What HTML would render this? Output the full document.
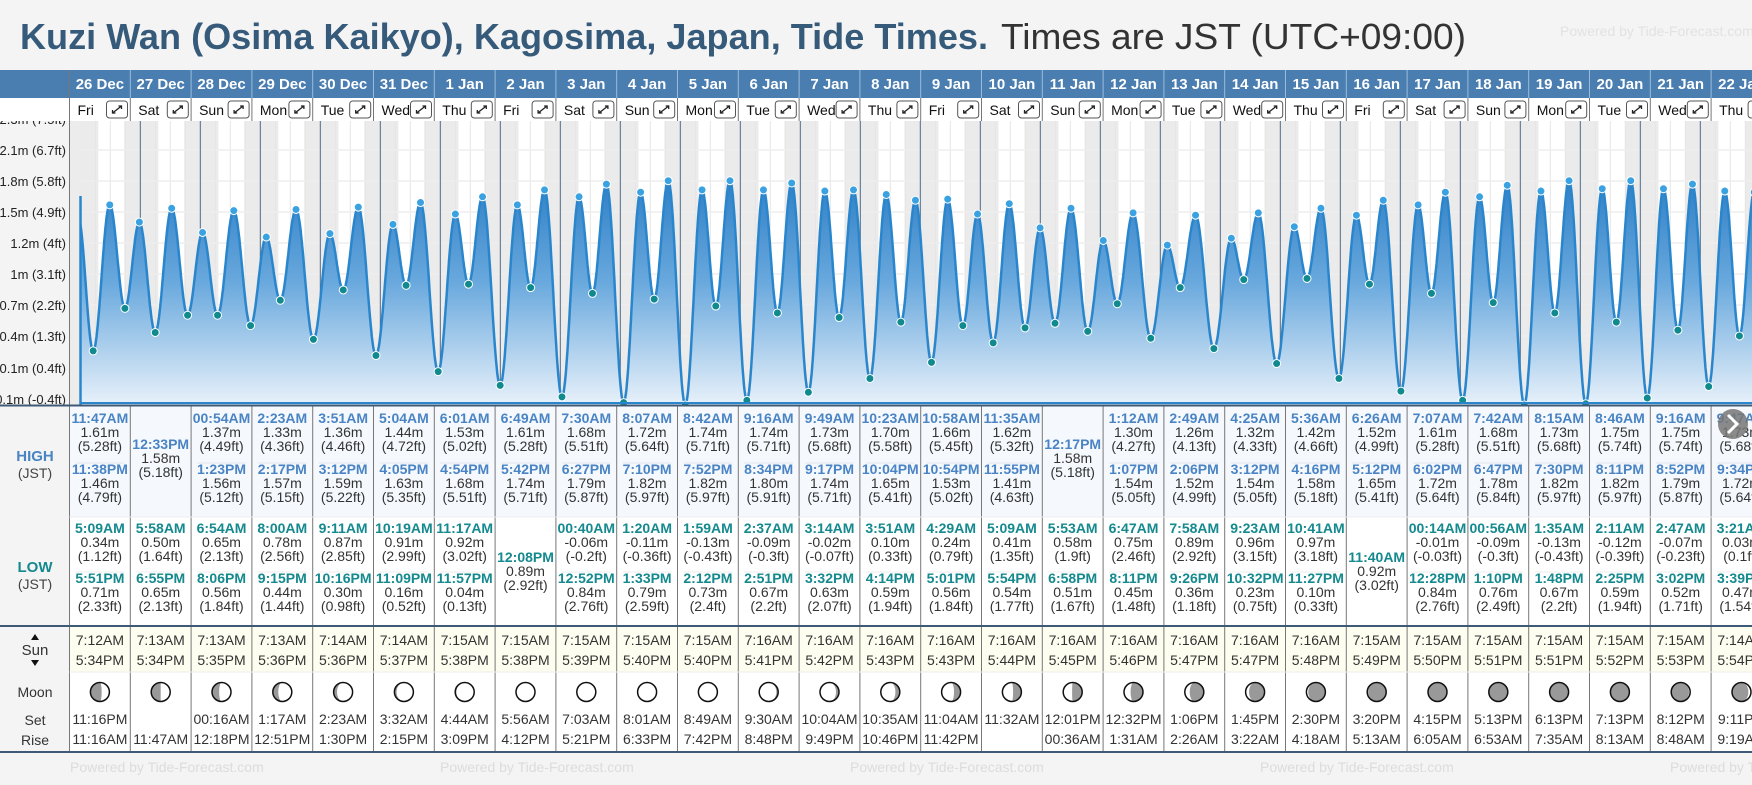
<!DOCTYPE html>
<html><head><meta charset="utf-8">
<style>
body{margin:0;width:1752px;height:780px;overflow:hidden;background:#f4f4f4;font-family:"Liberation Sans",sans-serif}
svg text{font-family:"Liberation Sans",sans-serif}
</style></head>
<body>
<svg id="root" width="1752" height="780" viewBox="0 0 1752 780" xmlns="http://www.w3.org/2000/svg">
<defs>
<linearGradient id="fillg" x1="0" y1="180" x2="0" y2="405" gradientUnits="userSpaceOnUse">
<stop offset="0" stop-color="#2f7fc6"/><stop offset="0.45" stop-color="#68a8dd"/><stop offset="1" stop-color="#e8f1fa"/>
</linearGradient>
<clipPath id="plotclip"><rect x="80" y="121" width="1672" height="284"/></clipPath>
<clipPath id="labelclip"><rect x="0" y="121" width="69" height="290"/></clipPath>
</defs>
<text x="20" y="49" font-size="36" font-weight="bold" fill="#365a7a" textLength="968" lengthAdjust="spacingAndGlyphs">Kuzi Wan (Osima Kaikyo), Kagosima, Japan, Tide Times.</text>
<text x="1001" y="49" font-size="36" fill="#333" textLength="465" lengthAdjust="spacingAndGlyphs">Times are JST (UTC+09:00)</text>
<text x="1560" y="36" font-size="14" fill="#e2e2e2">Powered by Tide-Forecast.com</text>
<g id="g"></g>
</svg>
<script>
const days=['26 Dec','27 Dec','28 Dec','29 Dec','30 Dec','31 Dec','1 Jan','2 Jan','3 Jan','4 Jan','5 Jan','6 Jan','7 Jan','8 Jan','9 Jan','10 Jan','11 Jan','12 Jan','13 Jan','14 Jan','15 Jan','16 Jan','17 Jan','18 Jan','19 Jan','20 Jan','21 Jan','22 Jan'];
const weekdays=['Fri','Sat','Sun','Mon','Tue','Wed','Thu','Fri','Sat','Sun','Mon','Tue','Wed','Thu','Fri','Sat','Sun','Mon','Tue','Wed','Thu','Fri','Sat','Sun','Mon','Tue','Wed','Thu'];
const highT=[['11:47AM','11:38PM'],['12:33PM'],['00:54AM','1:23PM'],['2:23AM','2:17PM'],['3:51AM','3:12PM'],['5:04AM','4:05PM'],['6:01AM','4:54PM'],['6:49AM','5:42PM'],['7:30AM','6:27PM'],['8:07AM','7:10PM'],['8:42AM','7:52PM'],['9:16AM','8:34PM'],['9:49AM','9:17PM'],['10:23AM','10:04PM'],['10:58AM','10:54PM'],['11:35AM','11:55PM'],['12:17PM'],['1:12AM','1:07PM'],['2:49AM','2:06PM'],['4:25AM','3:12PM'],['5:36AM','4:16PM'],['6:26AM','5:12PM'],['7:07AM','6:02PM'],['7:42AM','6:47PM'],['8:15AM','7:30PM'],['8:46AM','8:11PM'],['9:16AM','8:52PM'],['9:47AM','9:34PM']];
const highM=[[1.61,1.46],[1.58],[1.37,1.56],[1.33,1.57],[1.36,1.59],[1.44,1.63],[1.53,1.68],[1.61,1.74],[1.68,1.79],[1.72,1.82],[1.74,1.82],[1.74,1.80],[1.73,1.74],[1.70,1.65],[1.66,1.53],[1.62,1.41],[1.58],[1.30,1.54],[1.26,1.52],[1.32,1.54],[1.42,1.58],[1.52,1.65],[1.61,1.72],[1.68,1.78],[1.73,1.82],[1.75,1.82],[1.75,1.79],[1.73,1.72]];
const highF=[['5.28','4.79'],['5.18'],['4.49','5.12'],['4.36','5.15'],['4.46','5.22'],['4.72','5.35'],['5.02','5.51'],['5.28','5.71'],['5.51','5.87'],['5.64','5.97'],['5.71','5.97'],['5.71','5.91'],['5.68','5.71'],['5.58','5.41'],['5.45','5.02'],['5.32','4.63'],['5.18'],['4.27','5.05'],['4.13','4.99'],['4.33','5.05'],['4.66','5.18'],['4.99','5.41'],['5.28','5.64'],['5.51','5.84'],['5.68','5.97'],['5.74','5.97'],['5.74','5.87'],['5.68','5.64']];
const lowT=[['5:09AM','5:51PM'],['5:58AM','6:55PM'],['6:54AM','8:06PM'],['8:00AM','9:15PM'],['9:11AM','10:16PM'],['10:19AM','11:09PM'],['11:17AM','11:57PM'],['12:08PM'],['00:40AM','12:52PM'],['1:20AM','1:33PM'],['1:59AM','2:12PM'],['2:37AM','2:51PM'],['3:14AM','3:32PM'],['3:51AM','4:14PM'],['4:29AM','5:01PM'],['5:09AM','5:54PM'],['5:53AM','6:58PM'],['6:47AM','8:11PM'],['7:58AM','9:26PM'],['9:23AM','10:32PM'],['10:41AM','11:27PM'],['11:40AM'],['00:14AM','12:28PM'],['00:56AM','1:10PM'],['1:35AM','1:48PM'],['2:11AM','2:25PM'],['2:47AM','3:02PM'],['3:21AM','3:39PM']];
const lowM=[[0.34,0.71],[0.50,0.65],[0.65,0.56],[0.78,0.44],[0.87,0.30],[0.91,0.16],[0.92,0.04],[0.89],[-0.06,0.84],[-0.11,0.79],[-0.13,0.73],[-0.09,0.67],[-0.02,0.63],[0.10,0.59],[0.24,0.56],[0.41,0.54],[0.58,0.51],[0.75,0.45],[0.89,0.36],[0.96,0.23],[0.97,0.10],[0.92],[-0.01,0.84],[-0.09,0.76],[-0.13,0.67],[-0.12,0.59],[-0.07,0.52],[0.03,0.47]];
const lowF=[['1.12','2.33'],['1.64','2.13'],['2.13','1.84'],['2.56','1.44'],['2.85','0.98'],['2.99','0.52'],['3.02','0.13'],['2.92'],['-0.2','2.76'],['-0.36','2.59'],['-0.43','2.4'],['-0.3','2.2'],['-0.07','2.07'],['0.33','1.94'],['0.79','1.84'],['1.35','1.77'],['1.9','1.67'],['2.46','1.48'],['2.92','1.18'],['3.15','0.75'],['3.18','0.33'],['3.02'],['-0.03','2.76'],['-0.3','2.49'],['-0.43','2.2'],['-0.39','1.94'],['-0.23','1.71'],['0.1','1.54']];
const sunRise=['7:12AM','7:13AM','7:13AM','7:13AM','7:14AM','7:14AM','7:15AM','7:15AM','7:15AM','7:15AM','7:15AM','7:16AM','7:16AM','7:16AM','7:16AM','7:16AM','7:16AM','7:16AM','7:16AM','7:16AM','7:16AM','7:15AM','7:15AM','7:15AM','7:15AM','7:15AM','7:15AM','7:14AM'];
const sunSet=['5:34PM','5:34PM','5:35PM','5:36PM','5:36PM','5:37PM','5:38PM','5:38PM','5:39PM','5:40PM','5:40PM','5:41PM','5:42PM','5:43PM','5:43PM','5:44PM','5:45PM','5:46PM','5:47PM','5:47PM','5:48PM','5:49PM','5:50PM','5:51PM','5:51PM','5:52PM','5:53PM','5:54PM'];
const moonSet=['11:16PM','','00:16AM','1:17AM','2:23AM','3:32AM','4:44AM','5:56AM','7:03AM','8:01AM','8:49AM','9:30AM','10:04AM','10:35AM','11:04AM','11:32AM','12:01PM','12:32PM','1:06PM','1:45PM','2:30PM','3:20PM','4:15PM','5:13PM','6:13PM','7:13PM','8:12PM','9:11PM'];
const moonRise=['11:16AM','11:47AM','12:18PM','12:51PM','1:30PM','2:15PM','3:09PM','4:12PM','5:21PM','6:33PM','7:42PM','8:48PM','9:49PM','10:46PM','11:42PM','','00:36AM','1:31AM','2:26AM','3:22AM','4:18AM','5:13AM','6:05AM','6:53AM','7:35AM','8:13AM','8:48AM','9:19AM'];
const moonPhase=[0.22,0.25,0.29,0.32,0.36,0.39,0.42,0.46,0.5,0.53,0.56,0.6,0.63,0.66,0.7,0.73,0.76,0.8,0.83,0.86,0.9,0.93,0.96,0.99,0.02,0.05,0.08,0.12];
const yTickM=[2.3,2.1,1.8,1.5,1.2,1,0.7,0.4,0.1,-0.1];
const yTickLabels=['2.3m (7.5ft)','2.1m (6.7ft)','1.8m (5.8ft)','1.5m (4.9ft)','1.2m (4ft)','1m (3.1ft)','0.7m (2.2ft)','0.4m (1.3ft)','0.1m (0.4ft)','-0.1m (-0.4ft)'];
const yTickPx=[119,150,181,212,243,274,305,336,368,399];
const startPrev={t:-0.035,m:1.50};

const NS='http://www.w3.org/2000/svg';
const G=document.getElementById('g');
const X0=80.3, DW=60, COL0=69.5, CW=60.8, PLOT_TOP=121, PLOT_BOT=405;
const xOf=t=>X0+DW*t;
const yOf=m=>390-115*m;
const colX=i=>COL0+CW*i;
function parseT(s){const m=s.match(/(\d+):(\d+)(AM|PM)/);let h=+m[1]%12;if(m[3]==='PM')h+=12;return (h+ +m[2]/60)/24;}
function mk(tag,attrs,name,inter,parent){
  const el=document.createElementNS(NS,tag);
  for(const k in attrs)el.setAttribute(k,attrs[k]);
  
  
  (parent||G).appendChild(el);return el;}
function txt(x,y,s,name,o){o=o||{};const el=mk('text',{x:x,y:y,'font-size':o.fs||14,'text-anchor':o.a||'middle',fill:o.c||'#333','font-weight':o.b?'bold':'normal'},name,false,o.p);el.textContent=s;return el;}

mk('rect',{x:0,y:70,width:1752,height:28,fill:'#4a7db0'},'date-header-bar',false);
mk('rect',{x:0,y:98,width:1752,height:23,fill:'#fff'},'weekday-row',false);
mk('rect',{x:0,y:121,width:69.5,height:659,fill:'#f4f4f4'},'label-column',false);
mk('rect',{x:69.5,y:121,width:1683,height:284,fill:'#fff'},'plot-background',false);
mk('rect',{x:69.5,y:121,width:11,height:284,fill:'#ececec'},'plot-pre-area',false);
mk('rect',{x:69.5,y:405,width:1683,height:112,fill:'#f5f9fd'},'high-row-bg',false);
mk('rect',{x:69.5,y:517,width:1683,height:109,fill:'#fff'},'low-row-bg',false);
mk('rect',{x:69.5,y:626,width:1683,height:46,fill:'#fdfdf0'},'sun-row-bg',false);
mk('rect',{x:69.5,y:672,width:1683,height:80,fill:'#fff'},'moon-row-bg',false);
mk('rect',{x:0,y:752,width:1752,height:28,fill:'#f4f4f4'},'footer-bg',false);

const pg=mk('g',{'clip-path':'url(#plotclip)'},'plot-area',false);
days.forEach((dl,i)=>{
  const sr=parseT(sunRise[i]), ss=parseT(sunSet[i]);
  mk('rect',{x:xOf(i),y:PLOT_TOP,width:DW*sr,height:284,fill:'#ebebeb'},'night-before-sunrise',false,pg);
  mk('rect',{x:xOf(i+ss),y:PLOT_TOP,width:DW*(1-ss),height:284,fill:'#ebebeb'},'night-after-sunset',false,pg);
  [0.25,0.5,0.75].forEach(f=>mk('line',{x1:xOf(i+f),x2:xOf(i+f),y1:PLOT_TOP,y2:PLOT_BOT,stroke:'#e4e4e4','stroke-width':1},'hour-grid-line',false,pg));
});
yTickPx.forEach(y=>mk('line',{x1:80,x2:1752,y1:y,y2:y,stroke:'#eeeeee','stroke-width':1.5},'y-grid-line',false,pg));
days.forEach((dl,i)=>{ if(i>0) mk('line',{x1:xOf(i),x2:xOf(i),y1:PLOT_TOP,y2:PLOT_BOT,stroke:'#4d6b88','stroke-width':1},'midnight-line',false,pg);});

let ext=[startPrev];
days.forEach((dl,i)=>{
  highT[i].forEach((s,k)=>ext.push({t:i+parseT(s),m:highM[i][k],h:1}));
  lowT[i].forEach((s,k)=>ext.push({t:i+parseT(s),m:lowM[i][k],h:0}));
});
ext.sort((a,b)=>a.t-b.t);
let pts=[];
for(let j=0;j<ext.length-1;j++){
  const a=ext[j],b=ext[j+1];const n=30;
  for(let s=0;s<n;s++){const f=s/n;const v=a.m+(b.m-a.m)*(1-Math.cos(Math.PI*f))/2;pts.push([xOf(a.t+(b.t-a.t)*f),yOf(v)]);}
}
const lastE=ext[ext.length-1];pts.push([xOf(lastE.t),yOf(lastE.m)]);
const linePath=pts.map((p,k)=>(k?'L':'M')+p[0].toFixed(1)+','+p[1].toFixed(1)).join('');
mk('path',{d:linePath+'L'+pts[pts.length-1][0]+','+PLOT_BOT+'L'+pts[0][0]+','+PLOT_BOT+'Z',fill:'url(#fillg)'},'tide-fill',false,pg);
mk('path',{d:linePath,fill:'none',stroke:'#2a86cc','stroke-width':2.5},'tide-curve',false,pg);
ext.forEach(e=>{ if(e.h===undefined)return;
  mk('circle',{cx:xOf(e.t),cy:yOf(e.m),r:4,fill:e.h?'#3ba2e2':'#108a8e',stroke:'#fff','stroke-width':1},e.h?'high-tide-point':'low-tide-point',false,pg);});
mk('line',{x1:80.5,x2:80.5,y1:PLOT_TOP+75,y2:PLOT_BOT,stroke:'#2a86cc','stroke-width':2.5},'tide-start-edge',false);
mk('line',{x1:80,x2:1752,y1:403,y2:403,stroke:'#2a86cc','stroke-width':2},'plot-baseline',false);

const lg=mk('g',{'clip-path':'url(#labelclip)'},'y-axis',false);
yTickLabels.forEach((l,k)=>txt(66,yTickPx[k]+5,l,'y-axis-label',{a:'end',fs:13,c:'#222',p:lg}));
mk('line',{x1:69.5,x2:69.5,y1:70,y2:752,stroke:'#777','stroke-width':1},'label-column-border',false);

days.forEach((dl,i)=>{
  const x=colX(i),cx=x+CW/2;
  txt(cx,89,dl,'date-header',{b:1,fs:15,c:'#fff'});
  mk('line',{x1:x+CW,x2:x+CW,y1:70,y2:98,stroke:'#9bbcdc','stroke-width':1},'date-divider',false);
  mk('line',{x1:x+CW,x2:x+CW,y1:98,y2:121,stroke:'#777','stroke-width':1},'weekday-divider',false);
  txt(x+8,115,weekdays[i],'weekday-label',{a:'start',fs:14,c:'#111'});
  const bx=x+37,by=101;
  mk('rect',{x:bx,y:by,width:21,height:17,rx:3,fill:'#fff',stroke:'#555','stroke-width':1},'expand-day-button',true);
  mk('path',{d:'M'+(bx+6)+','+(by+12)+'L'+(bx+15)+','+(by+5)+'M'+(bx+6)+','+(by+9)+'V'+(by+12)+'H'+(bx+9)+'M'+(bx+12)+','+(by+5)+'H'+(bx+15)+'V'+(by+8),fill:'none',stroke:'#222','stroke-width':1.3},'expand-icon',false);
  mk('line',{x1:x+CW,x2:x+CW,y1:405,y2:752,stroke:'#777','stroke-width':1},'table-column-divider',false);
  if(highT[i].length===2){
    [[423,0],[474,1]].forEach(([y,k])=>{txt(cx,y,highT[i][k],'high-time',{b:1,c:'#4a84c4'});txt(cx,y+14,highM[i][k].toFixed(2)+'m','high-height');txt(cx,y+28,'('+highF[i][k]+'ft)','high-height-ft');});
    mk('line',{x1:x+6,x2:x+CW-6,y1:463,y2:463,stroke:'#e3e8ee'},'entry-divider',false);
  } else {txt(cx,449,highT[i][0],'high-time',{b:1,c:'#4a84c4'});txt(cx,463,highM[i][0].toFixed(2)+'m','high-height');txt(cx,477,'('+highF[i][0]+'ft)','high-height-ft');}
  if(lowT[i].length===2){
    [[533,0],[583,1]].forEach(([y,k])=>{txt(cx,y,lowT[i][k],'low-time',{b:1,c:'#14898e'});txt(cx,y+14,lowM[i][k].toFixed(2)+'m','low-height');txt(cx,y+28,'('+lowF[i][k]+'ft)','low-height-ft');});
    mk('line',{x1:x+6,x2:x+CW-6,y1:572,y2:572,stroke:'#ececec'},'entry-divider',false);
  } else {txt(cx,562,lowT[i][0],'low-time',{b:1,c:'#14898e'});txt(cx,576,lowM[i][0].toFixed(2)+'m','low-height');txt(cx,590,'('+lowF[i][0]+'ft)','low-height-ft');}
  txt(cx,645,sunRise[i],'sunrise-time');txt(cx,665,sunSet[i],'sunset-time');
  const mx=cx,my=692,r=9.5,p=moonPhase[i];
  mk('circle',{cx:mx,cy:my,r:r,fill:'#999'},'moon-dark',false);
  const rx=Math.abs(Math.cos(2*Math.PI*p))*r;let mp;
  if(p<0.5){mp='M'+mx+','+(my-r)+'A'+r+','+r+' 0 0 1 '+mx+','+(my+r)+'A'+rx+','+r+' 0 0 '+(p<0.25?0:1)+' '+mx+','+(my-r)+'Z';}
  else{mp='M'+mx+','+(my-r)+'A'+r+','+r+' 0 0 0 '+mx+','+(my+r)+'A'+rx+','+r+' 0 0 '+(p>0.75?1:0)+' '+mx+','+(my-r)+'Z';}
  mk('path',{d:mp,fill:'#fff'},'moon-lit',false);
  mk('circle',{cx:mx,cy:my,r:r,fill:'none',stroke:'#111','stroke-width':1.5},'moon-phase-icon',false);
  txt(cx,724,moonSet[i],'moon-set-time');txt(cx,744,moonRise[i],'moon-rise-time');
});
mk('line',{x1:0,x2:1752,y1:405.5,y2:405.5,stroke:'#3e5a76','stroke-width':2},'plot-bottom-border',false);
mk('line',{x1:69.5,x2:1752,y1:517,y2:517,stroke:'#eaeef2','stroke-width':1},'high-low-divider',false);
mk('line',{x1:0,x2:1752,y1:626,y2:626,stroke:'#3e5a76','stroke-width':2},'sun-top-border',false);
mk('line',{x1:69.5,x2:1752,y1:672,y2:672,stroke:'#eee','stroke-width':1},'moon-top-border',false);
mk('line',{x1:0,x2:1752,y1:752,y2:752,stroke:'#3e5a76','stroke-width':2},'footer-top-border',false);

txt(35,461,'HIGH','high-label',{b:1,c:'#4a84c4',fs:15});txt(35,478,'(JST)','high-jst',{fs:14,c:'#444'});
txt(35,572,'LOW','low-label',{b:1,c:'#14898e',fs:15});txt(35,589,'(JST)','low-jst',{fs:14,c:'#444'});
txt(35,655,'Sun','sun-label',{fs:15,c:'#333'});
mk('path',{d:'M31,640L35,634L39,640ZM31,660L35,666L39,660Z',fill:'#111'},'sun-arrows',false);
txt(35,697,'Moon','moon-label',{fs:14,c:'#333'});
txt(35,725,'Set','moon-set-label',{fs:14,c:'#333'});txt(35,745,'Rise','moon-rise-label',{fs:14,c:'#333'});
[70,440,850,1260,1670].forEach(x=>txt(x,772,'Powered by Tide-Forecast.com','footer-watermark',{a:'start',fs:14,c:'#dcdcdc'}));
mk('circle',{cx:1733,cy:424,r:15,fill:'#777',opacity:0.85},'next-page-button',true);
mk('path',{d:'M1728,415L1737,424L1728,433',fill:'none',stroke:'#fff','stroke-width':3},'next-arrow-icon',false);
</script>
</body></html>
